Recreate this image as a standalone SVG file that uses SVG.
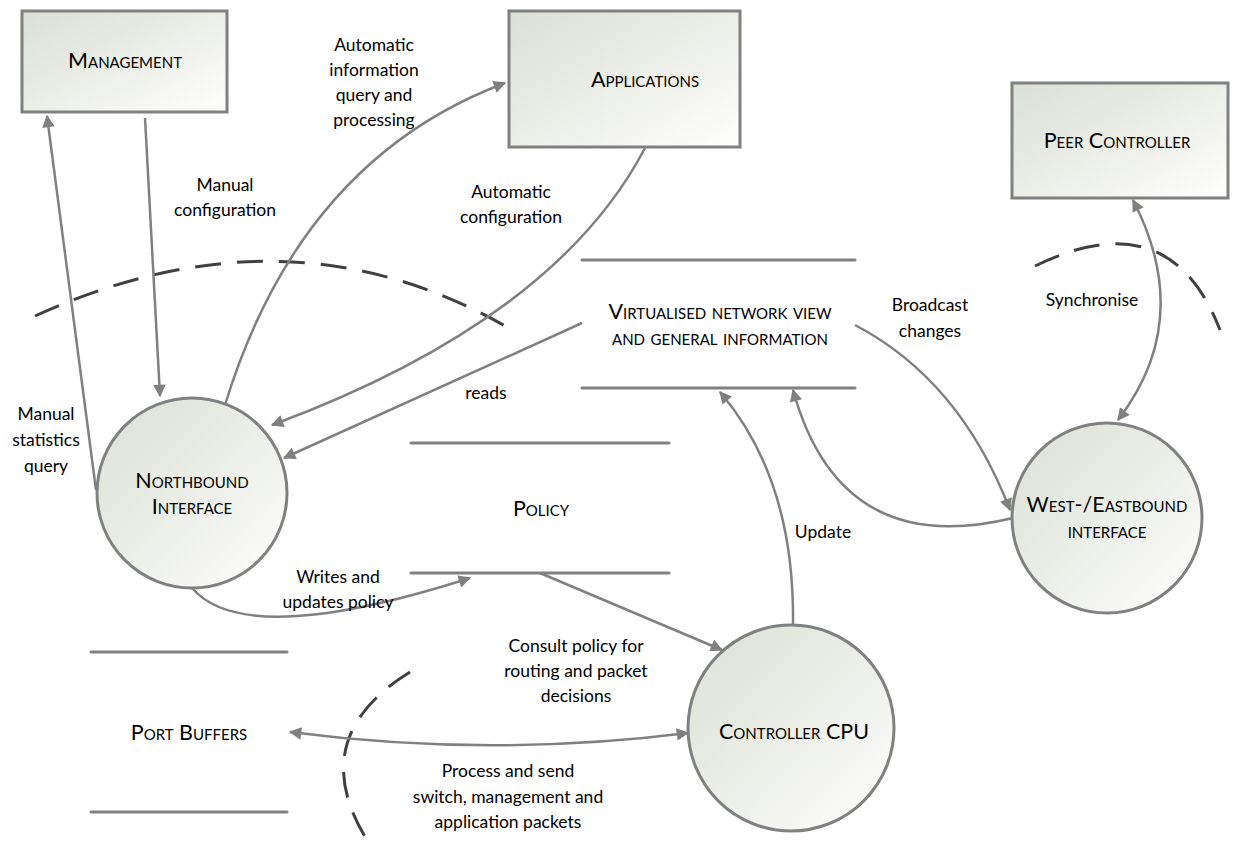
<svg xmlns="http://www.w3.org/2000/svg" width="1252" height="850" viewBox="0 0 1252 850">
  <style>
    .box { stroke: #808080; stroke-width: 3; fill: url(#nodeFill); }
    .store { stroke: #808080; stroke-width: 3; stroke-linecap: round; }
    .flow { fill: none; stroke: #808080; stroke-width: 2.5; }
    .bound { fill: none; stroke: #404040; stroke-width: 3; stroke-dasharray: 26 16; }
    .label { font-family: "Lato", "Liberation Sans", sans-serif; font-size: 17.5px; fill: #000; text-anchor: middle; }
    .name { font-family: "Lato", "Liberation Sans", sans-serif; font-size: 21.5px; font-variant: small-caps; fill: #000; text-anchor: middle; }
  </style>
  <defs>
    <linearGradient id="nodeFill" x1="0" y1="0" x2="1" y2="1">
      <stop offset="0" stop-color="#dbe0d5"/>
      <stop offset="0.5" stop-color="#eceee8"/>
      <stop offset="1" stop-color="#ffffff"/>
    </linearGradient>
    <marker id="arrow" viewBox="0 0 10 10" refX="9" refY="5" markerWidth="6.5" markerHeight="5" orient="auto-start-reverse" markerUnits="strokeWidth">
      <path d="M0,0 L10,5 L0,10 z" fill="#808080"/>
    </marker>
  </defs>

  <rect width="1252" height="850" fill="#ffffff"/>

  <!-- trust boundaries -->
  <g id="boundaries">
    <path class="bound" d="M35,316 Q290,200 512,330"/>
    <path class="bound" d="M1035,266 Q1170,200 1220,330"/>
    <path class="bound" d="M410,672 Q300,740 372,848"/>
  </g>

  <!-- data flows -->
  <g id="connectors">
    <path class="flow" d="M96,490 L47,116" marker-end="url(#arrow)"/>
    <path class="flow" d="M145,118 L160,396" marker-end="url(#arrow)"/>
    <path class="flow" d="M225,405 Q300,160 505,83" marker-end="url(#arrow)"/>
    <path class="flow" d="M645,148 Q555,320 272,425" marker-end="url(#arrow)"/>
    <path class="flow" d="M582,323 L284,458" marker-end="url(#arrow)"/>
    <path class="flow" d="M192,588 Q245,650 470,578" marker-end="url(#arrow)"/>
    <path class="flow" d="M540,573 L722,650" marker-end="url(#arrow)"/>
    <path class="flow" d="M793,625 Q795,480 720,392" marker-end="url(#arrow)"/>
    <path class="flow" d="M1013,518 Q840,560 793,390" marker-end="url(#arrow)"/>
    <path class="flow" d="M855,325 Q960,380 1010,510" marker-end="url(#arrow)"/>
    <path class="flow" d="M1133,200 Q1195,320 1118,420" marker-start="url(#arrow)" marker-end="url(#arrow)"/>
    <path class="flow" d="M290,732 Q490,758 688,733" marker-start="url(#arrow)" marker-end="url(#arrow)"/>
  </g>

  <!-- flow labels -->
  <g id="flow-labels">
    <text class="label" x="374" y="51">Automatic</text>
    <text class="label" x="374" y="76">information</text>
    <text class="label" x="374" y="101">query and</text>
    <text class="label" x="374" y="126">processing</text>
    <text class="label" x="225" y="191">Manual</text>
    <text class="label" x="225" y="216">configuration</text>
    <text class="label" x="511" y="198">Automatic</text>
    <text class="label" x="511" y="223">configuration</text>
    <text class="label" x="930" y="311">Broadcast</text>
    <text class="label" x="930" y="337">changes</text>
    <text class="label" x="1092" y="306">Synchronise</text>
    <text class="label" x="46" y="420">Manual</text>
    <text class="label" x="46" y="446">statistics</text>
    <text class="label" x="46" y="472">query</text>
    <text class="label" x="486" y="399">reads</text>
    <text class="label" x="338" y="583">Writes and</text>
    <text class="label" x="338" y="608">updates policy</text>
    <text class="label" x="823" y="538">Update</text>
    <text class="label" x="576" y="652">Consult policy for</text>
    <text class="label" x="576" y="677">routing and packet</text>
    <text class="label" x="576" y="702">decisions</text>
    <text class="label" x="508" y="777">Process and send</text>
    <text class="label" x="508" y="803">switch, management and</text>
    <text class="label" x="508" y="828">application packets</text>
  </g>

  <!-- external entities -->
  <g id="management">
    <rect class="box" x="22" y="11" width="205" height="101"/>
    <text class="name" x="125" y="68">Management</text>
  </g>
  <g id="applications">
    <rect class="box" x="509" y="11" width="231" height="136"/>
    <text class="name" x="645" y="87">Applications</text>
  </g>
  <g id="peer-controller">
    <rect class="box" x="1012" y="83" width="216" height="115"/>
    <text class="name" x="1117" y="148">Peer Controller</text>
  </g>

  <!-- processes -->
  <g id="northbound-interface">
    <circle class="box" cx="192" cy="493" r="95"/>
    <text class="name" x="192" y="488">Northbound</text>
    <text class="name" x="192" y="514">Interface</text>
  </g>
  <g id="westeastbound-interface">
    <circle class="box" cx="1107" cy="518" r="95"/>
    <text class="name" x="1107" y="512">West-/Eastbound</text>
    <text class="name" x="1107" y="538">interface</text>
  </g>
  <g id="controller-cpu">
    <circle class="box" cx="791" cy="728" r="103"/>
    <text class="name" x="794" y="739">Controller CPU</text>
  </g>

  <!-- data stores -->
  <g id="network-view-store">
    <line class="store" x1="582" y1="260" x2="855" y2="260"/>
    <line class="store" x1="582" y1="388" x2="855" y2="388"/>
    <text class="name" x="720" y="319">Virtualised network view</text>
    <text class="name" x="720" y="345">and general information</text>
  </g>
  <g id="policy-store">
    <line class="store" x1="411" y1="443" x2="669" y2="443"/>
    <line class="store" x1="411" y1="573" x2="669" y2="573"/>
    <text class="name" x="541" y="516">Policy</text>
  </g>
  <g id="port-buffers-store">
    <line class="store" x1="91" y1="652" x2="287" y2="652"/>
    <line class="store" x1="91" y1="812" x2="287" y2="812"/>
    <text class="name" x="189" y="740">Port Buffers</text>
  </g>
</svg>
